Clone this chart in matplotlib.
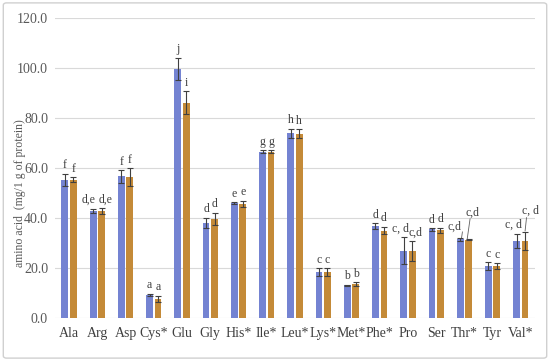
import matplotlib
matplotlib.use("Agg")
import matplotlib.pyplot as plt
import numpy as np
from matplotlib.patches import FancyBboxPatch

categories = ["Ala", "Arg", "Asp", "Cys*", "Glu", "Gly", "His*", "Ile*", "Leu*",
              "Lys*", "Met*", "Phe*", "Pro", "Ser", "Thr*", "Tyr", "Val*"]
s1 = [55.0, 42.8, 56.5, 9.0, 99.5, 38.0, 45.8, 66.3, 73.8, 18.2, 13.0, 36.6, 26.8, 35.3, 31.3, 20.6, 30.8]
s2 = [55.2, 42.5, 56.3, 7.5, 86.0, 39.5, 45.5, 66.3, 73.5, 18.2, 13.3, 34.8, 26.6, 35.0, 31.2, 20.5, 30.7]
e1 = [2.5, 0.8, 2.5, 0.5, 4.5, 2.0, 0.3, 0.6, 1.8, 1.5, 0.2, 1.2, 5.5, 0.5, 0.5, 1.6, 2.8]
e2 = [1.0, 1.2, 3.5, 1.2, 4.5, 2.5, 1.2, 0.6, 1.8, 1.5, 0.8, 1.5, 4.0, 1.0, 0.3, 1.2, 3.7]
lab1 = ["f", "d,e", "f", "a", "j", "d", "e", "g", "h", "c", "b", "d", "c, d", "d", "c,d", "c", "c, d"]
lab2 = ["f", "d,e", "f", "a", "i", "d", "e", "g", "h", "c", "b", "d", "c,d", "d", "c,d", "c", "c, d"]
yticks = [0, 20, 40, 60, 80, 100, 120]

plt.rcParams['font.family'] = ['Liberation Serif', 'DejaVu Serif']

fig = plt.figure(figsize=(5.5, 3.61), dpi=100)
fig.patches.append(FancyBboxPatch((0.006, 0.008), 0.988, 0.984, boxstyle="round,pad=0,rounding_size=0.006",
                                  transform=fig.transFigure, fill=False, edgecolor="#d0d0d0", linewidth=1.0))
ax = fig.add_axes([0.1, 0.12, 0.8727, 0.831])

x = np.arange(len(categories))
w = 0.24
off = 0.15
c1 = "#7483d2"
c2 = "#c48a38"
ax.bar(x - off, s1, w, color=c1, zorder=2)
ax.bar(x + off, s2, w, color=c2, zorder=2)
ekw = dict(fmt="none", ecolor="#404040", elinewidth=0.8, capsize=2.5, capthick=0.8, zorder=3)
ax.errorbar(x - off, s1, yerr=e1, **ekw)
ax.errorbar(x + off, s2, yerr=e2, **ekw)

fs = 8.5
tc = "#404040"
shift = {1: (-0.15, 0.15), 12: (-0.1, 0.12)}
for i in range(len(categories)):
    if i == 14:
        continue
    if i == 16:
        ax.text(x[i] - off - 0.1, s1[i] + e1[i] + 1.0, lab1[i], ha="center", va="bottom", fontsize=fs, color=tc)
        continue
    d1, d2 = shift.get(i, (0, 0))
    ax.text(x[i] - off + d1, s1[i] + e1[i] + 1.0, lab1[i], ha="center", va="bottom", fontsize=fs, color=tc)
    ax.text(x[i] + off + d2, s2[i] + e2[i] + 1.0, lab2[i], ha="center", va="bottom", fontsize=fs, color=tc)

# Thr* with leader lines
ax.text(x[14] - off - 0.22, s1[14] + e1[14] + 2.0, lab1[14], ha="center", va="bottom", fontsize=fs, color=tc)
ax.plot([x[14] - off + 0.08, x[14] - off + 0.05], [s1[14] + e1[14] + 2.5, s1[14] + e1[14] + 0.2], color="#606060", lw=0.6)
ax.text(x[14] + off + 0.15, s2[14] + 8.5, lab2[14], ha="center", va="bottom", fontsize=fs, color=tc)
ax.plot([x[14] + off + 0.05, x[14] + off - 0.05], [s2[14] + 8.3, s2[14] + 0.3], color="#606060", lw=0.6)
# Val* orange with leader line
ax.text(x[16] + off + 0.2, s2[16] + 9.5, lab2[16], ha="center", va="bottom", fontsize=fs, color=tc)
ax.plot([x[16] + off + 0.05, x[16] + off], [s2[16] + 9.3, s2[16] + e2[16] + 0.3], color="#606060", lw=0.6)

ax.set_xlim(-0.5, len(categories) - 0.5)
ax.set_ylim(0, 120)
ax.set_yticks(yticks)
ax.set_yticklabels([f"{v:.1f}" for v in yticks], fontsize=10, color="#595959")
ax.set_xticks(x)
ax.set_xticklabels(categories, fontsize=10, color="#404040")
ax.tick_params(axis="both", length=0)
ax.tick_params(axis="x", pad=7)
ax.tick_params(axis="y", pad=5)
ax.yaxis.grid(True, color="#d9d9d9", linewidth=0.8, zorder=0)
ax.set_axisbelow(True)
for sp in ax.spines.values():
    sp.set_visible(False)
fig.text(0.036, 0.465, "amino acid  (mg/1 g of protein)", rotation=90, fontsize=8.5,
         color="#595959", ha="center", va="center")

fig.savefig("out.png", dpi=100)
